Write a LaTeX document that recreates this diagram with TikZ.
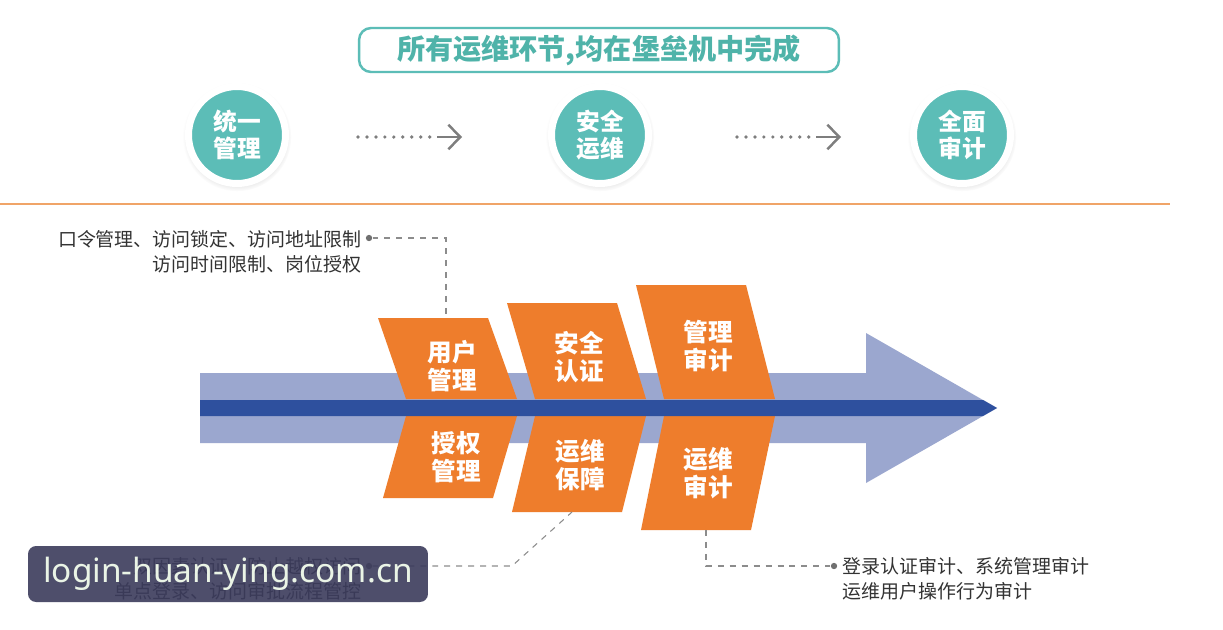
\documentclass[tikz,border=0pt]{standalone}
\usepackage{fontspec}
\setmainfont{Noto Sans CJK SC}
\newfontfamily\wmfont{Noto Sans}
\usetikzlibrary{arrows.meta,shadows}
\definecolor{bhteal}{HTML}{5CBDB7}
\definecolor{bhtealtext}{HTML}{4FB3A9}
\definecolor{bhorange}{HTML}{EE7D2C}
\definecolor{bhrule}{HTML}{F0A468}
\definecolor{bhshaft}{HTML}{9BA7CF}
\definecolor{bhline}{HTML}{2E509E}
\definecolor{bhgrey}{HTML}{8C8C8C}
\definecolor{bhink}{HTML}{333333}
\definecolor{wmbox}{HTML}{3B3B5C}
\definecolor{wmtext}{HTML}{EAF4E6}

\begin{document}
\begin{tikzpicture}[
    x=0.02cm, y=-0.02cm,
    title/.style={draw=bhteal, line width=1.4pt, rounded corners=0.24cm,
                  minimum width=9.6cm, minimum height=0.88cm, text=bhtealtext,
                  font=\fontsize{16}{18}\selectfont\bfseries},
    stage/.style={circle, fill=bhteal, draw=white, line width=0.14cm,
                  minimum size=1.94cm, inner sep=0pt, align=center, text=white,
                  font=\fontsize{13.5}{15.5}\selectfont\bfseries,
                  circular drop shadow={shadow scale=1.12, shadow xshift=0pt,
                                        shadow yshift=-1pt, opacity=0.22}},
    dots/.style={draw=bhgrey!90!black, line width=2.1pt, line cap=round,
                 dash pattern=on 0pt off 5.1pt},
    barb/.style={draw=bhgrey!90!black, line width=1.4pt,
                 -{Straight Barb[length=6.8pt, width=14pt]}},
    block/.style={fill=bhorange},
    blocktext/.style={text=white, align=center, inner sep=0pt,
                      font=\fontsize{14}{16}\selectfont\bfseries},
    leader/.style={draw=bhgrey, line width=0.6pt, dash pattern=on 3.4pt off 3.4pt},
    dot/.style={circle, fill=bhgrey!80!black, inner sep=0pt, minimum size=3.6pt},
    note/.style={text=bhink, inner sep=0pt, font=\fontsize{10.8}{14.2}\selectfont},
  ]
  \fill[white] (0,0) rectangle (1223,629);
  \useasboundingbox (0,0) rectangle (1223,629);

  % ------------------------------------------------------------------ top: motto + stages
  \node[title] (motto) at (599,50) {所有运维环节,均在堡垒机中完成};

  \foreach \x/\name/\txt in {237/unify/{统一\\管理}, 600/secure/{安全\\运维}, 962/audit/{全面\\审计}}
    \node[stage] (\name) at (\x,135) {\txt};

  \coordinate (arr1-from) at (358,137);
  \coordinate (arr1-mid)  at (437,137);
  \coordinate (arr1-to)   at (462,137);
  \coordinate (arr2-from) at (737,137);
  \coordinate (arr2-mid)  at (816,137);
  \coordinate (arr2-to)   at (841,137);
  \draw[dots] (arr1-from) -- ([xshift=-0.1cm]arr1-mid);
  \draw[barb] (arr1-mid) -- (arr1-to);
  \draw[dots] (arr2-from) -- ([xshift=-0.1cm]arr2-mid);
  \draw[barb] (arr2-mid) -- (arr2-to);

  \draw[bhrule, line width=1.2pt] (0,204) -- (1170,204);

  % ------------------------------------------------------------------ big arrow
  \fill[bhshaft] (200,373) -- (866,373) -- (866,333) -- (997,408)
                 -- (866,483) -- (866,443) -- (200,443) -- cycle;

  % chevrons: top half above the band, bottom half below it
  \foreach \L/\T/\B in {378/318/498, 507/303/512, 636/285/530} {
    \fill[block] (\L,\T) -- (\L+110,\T) -- (\L+139,399) -- (\L+28,399) -- cycle;
    \fill[block] (\L+28,416) -- (\L+139,416) -- (\L+115,\B) -- (\L+5,\B) -- cycle;
  }

  \fill[bhline] (200,400) -- (983,400) -- (997,408) -- (983,416) -- (200,416) -- cycle;

  \node[blocktext] (user)     at (452,366) {用户\\管理};
  \node[blocktext] (grant)    at (456,457) {授权\\管理};
  \node[blocktext] (auth)     at (579,357) {安全\\认证};
  \node[blocktext] (ops)      at (580,465) {运维\\保障};
  \node[blocktext] (mgmt)     at (708,346) {管理\\审计};
  \node[blocktext] (opsaudit) at (708,473) {运维\\审计};

  % ------------------------------------------------------------------ call-outs
  \coordinate (user-top)     at (446,318);
  \coordinate (ops-bot)      at (572,512);
  \coordinate (ops-knee)     at (512,566);
  \coordinate (opsaudit-bot) at (706,530);

  \node[dot] (d-user)  at (369,238) {};
  \node[dot] (d-ops)   at (369,566) {};
  \node[dot] (d-audit) at (834,566) {};

  \draw[leader] (d-user) -| (user-top);
  \draw[leader] (d-ops) -- (ops-knee) -- (ops-bot);
  \draw[leader] (opsaudit-bot) |- (d-audit);

  \node[note, anchor=east, align=right] (n-user) at (362,252)
    {口令管理、访问锁定、访问地址限制\\访问时间限制、岗位授权};
  \node[note, anchor=east, align=right] (n-ops) at (362,579)
    {双因素认证、防止越权访问\\单点登录、访问审批流程管控};
  \node[note, anchor=west, align=left] (n-audit) at (842,579)
    {登录认证审计、系统管理审计\\运维用户操作行为审计};

  % watermark box over the lower-left call-out, the text below still shows through
  \node[fill=wmbox, fill opacity=0.9, text opacity=1, rounded corners=0.16cm,
        minimum width=8cm, minimum height=1.12cm,
        text=wmtext, font=\wmfont\fontsize{19}{21}\selectfont] (mark) at (228,574)
    {login-huan-ying.com.cn};
\end{tikzpicture}
\end{document}
